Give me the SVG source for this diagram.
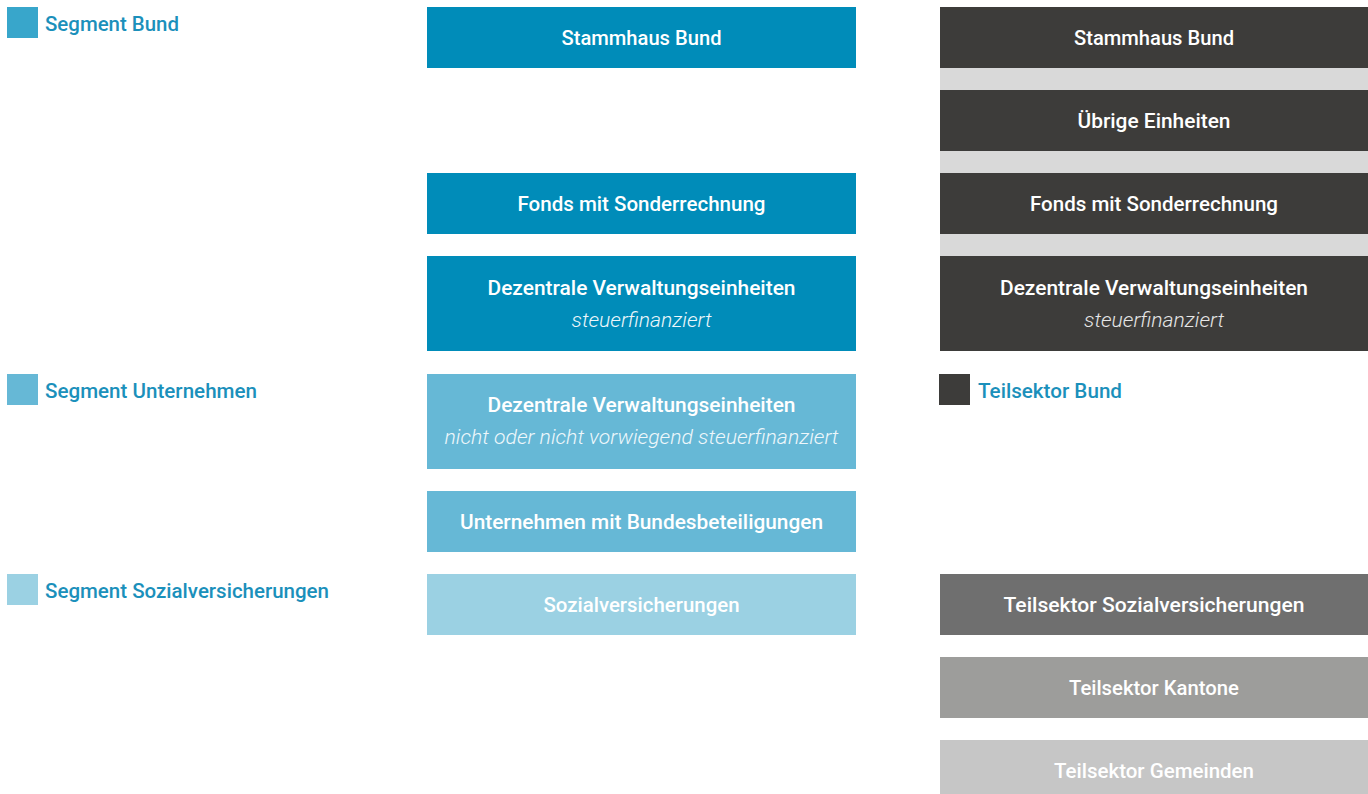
<svg xmlns="http://www.w3.org/2000/svg" width="1368" height="794" viewBox="0 0 1368 794">
  <style>
    .t { font-family: Roboto, "Liberation Sans", sans-serif; font-weight: 500; font-size: 21px; fill: #ffffff; text-anchor: middle; }
    .sub { font-family: Roboto, "Liberation Sans", sans-serif; font-weight: 300; font-style: italic; font-size: 21px; fill: #eef7fb; text-anchor: middle; }
    .leg { font-family: Roboto, "Liberation Sans", sans-serif; font-weight: 500; font-size: 21px; fill: #1b90bb; }
    .b1 { fill: #008cb9; }
    .b2 { fill: #66b8d6; }
    .b3 { fill: #9bd1e3; }
    .g1 { fill: #3d3c3a; }
    .g2 { fill: #6f6f6f; }
    .g3 { fill: #9d9d9b; }
    .g4 { fill: #c6c6c6; }
  </style>
  <rect width="1368" height="794" fill="#ffffff"/>

  <!-- legend -->
  <g id="legend-segment-bund">
    <rect x="7" y="7" width="31" height="31" fill="#38a6cb"/>
    <text class="leg" x="45" y="31" textLength="134" lengthAdjust="spacingAndGlyphs">Segment Bund</text>
  </g>
  <g id="legend-segment-unternehmen">
    <rect x="7" y="374" width="31" height="31" fill="#66b8d6"/>
    <text class="leg" x="45" y="398" textLength="212" lengthAdjust="spacingAndGlyphs">Segment Unternehmen</text>
  </g>
  <g id="legend-segment-sozialversicherungen">
    <rect x="7" y="574" width="31" height="31" fill="#9bd1e3"/>
    <text class="leg" x="45" y="598" textLength="284" lengthAdjust="spacingAndGlyphs">Segment Sozialversicherungen</text>
  </g>
  <g id="legend-teilsektor-bund">
    <rect x="939" y="374" width="31" height="31" fill="#3d3c3a"/>
    <text class="leg" x="978" y="398" textLength="144" lengthAdjust="spacingAndGlyphs">Teilsektor Bund</text>
  </g>

  <!-- segment column -->
  <g id="seg-stammhaus">
    <rect class="b1" x="427" y="7" width="429" height="61"/>
    <text class="t" x="641.5" y="45" textLength="160" lengthAdjust="spacingAndGlyphs">Stammhaus Bund</text>
  </g>
  <g id="seg-fonds">
    <rect class="b1" x="427" y="173" width="429" height="61"/>
    <text class="t" x="641.5" y="211" textLength="248" lengthAdjust="spacingAndGlyphs">Fonds mit Sonderrechnung</text>
  </g>
  <g id="seg-dezentrale-steuer">
    <rect class="b1" x="427" y="256" width="429" height="95"/>
    <text class="t" x="641.5" y="295" textLength="308" lengthAdjust="spacingAndGlyphs">Dezentrale Verwaltungseinheiten</text>
    <text class="sub" x="641.5" y="327" textLength="140" lengthAdjust="spacingAndGlyphs">steuerfinanziert</text>
  </g>
  <g id="seg-dezentrale-nicht">
    <rect class="b2" x="427" y="374" width="429" height="95"/>
    <text class="t" x="641.5" y="412" textLength="308" lengthAdjust="spacingAndGlyphs">Dezentrale Verwaltungseinheiten</text>
    <text class="sub" x="641.5" y="444" textLength="394" lengthAdjust="spacingAndGlyphs">nicht oder nicht vorwiegend steuerfinanziert</text>
  </g>
  <g id="seg-unternehmen">
    <rect class="b2" x="427" y="491" width="429" height="61"/>
    <text class="t" x="641.5" y="529" textLength="363" lengthAdjust="spacingAndGlyphs">Unternehmen mit Bundesbeteiligungen</text>
  </g>
  <g id="seg-sozial">
    <rect class="b3" x="427" y="574" width="429" height="61"/>
    <text class="t" x="641.5" y="612" textLength="196" lengthAdjust="spacingAndGlyphs">Sozialversicherungen</text>
  </g>

  <!-- sector column -->
  <rect x="940" y="68" width="428" height="188" fill="#d9d9d9"/>
  <g id="sek-stammhaus">
    <rect class="g1" x="940" y="7" width="428" height="61"/>
    <text class="t" x="1154" y="45" textLength="160" lengthAdjust="spacingAndGlyphs">Stammhaus Bund</text>
  </g>
  <g id="sek-uebrige">
    <rect class="g1" x="940" y="90" width="428" height="61"/>
    <text class="t" x="1154" y="128" textLength="153" lengthAdjust="spacingAndGlyphs">Übrige Einheiten</text>
  </g>
  <g id="sek-fonds">
    <rect class="g1" x="940" y="173" width="428" height="61"/>
    <text class="t" x="1154" y="211" textLength="248" lengthAdjust="spacingAndGlyphs">Fonds mit Sonderrechnung</text>
  </g>
  <g id="sek-dezentrale">
    <rect class="g1" x="940" y="256" width="428" height="95"/>
    <text class="t" x="1154" y="295" textLength="308" lengthAdjust="spacingAndGlyphs">Dezentrale Verwaltungseinheiten</text>
    <text class="sub" x="1154" y="327" textLength="140" lengthAdjust="spacingAndGlyphs" style="fill:#e6e6e6">steuerfinanziert</text>
  </g>
  <g id="sek-sozial">
    <rect class="g2" x="940" y="574" width="428" height="61"/>
    <text class="t" x="1154" y="612" textLength="301" lengthAdjust="spacingAndGlyphs">Teilsektor Sozialversicherungen</text>
  </g>
  <g id="sek-kantone">
    <rect class="g3" x="940" y="657" width="428" height="61"/>
    <text class="t" x="1154" y="695" textLength="170" lengthAdjust="spacingAndGlyphs">Teilsektor Kantone</text>
  </g>
  <g id="sek-gemeinden">
    <rect class="g4" x="940" y="740" width="428" height="61"/>
    <text class="t" x="1154" y="778" textLength="200" lengthAdjust="spacingAndGlyphs">Teilsektor Gemeinden</text>
  </g>

  <g id="connectors"/>
</svg>
